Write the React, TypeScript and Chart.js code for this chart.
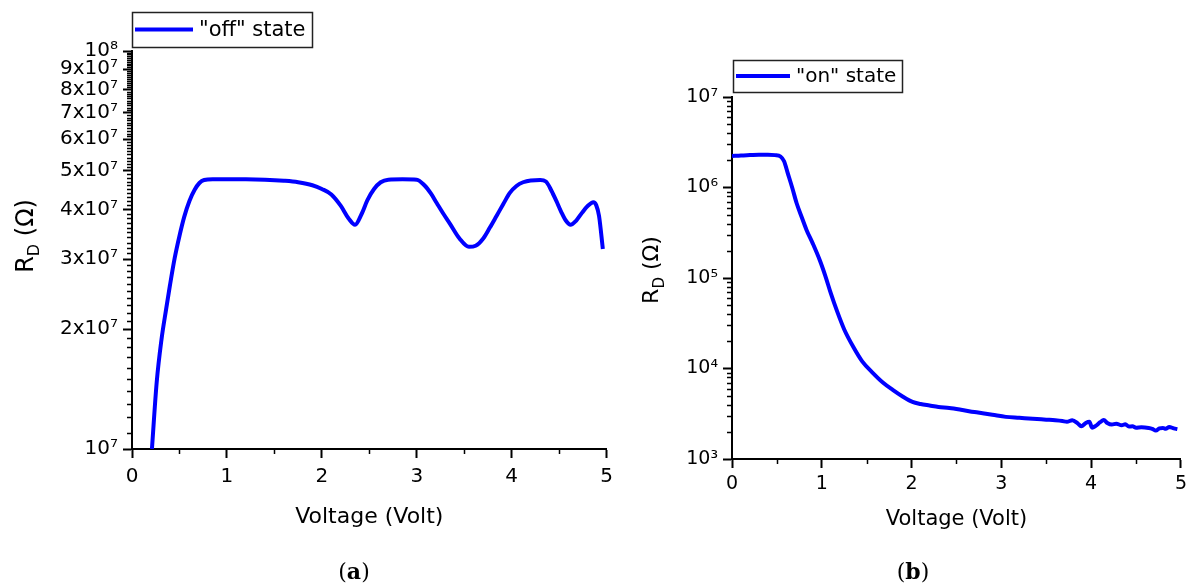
import React, { useEffect, useRef } from "react";
import { Chart, registerables } from "chart.js";
Chart.register(...registerables);

const FONT = '"DejaVu Sans", sans-serif';

// ---- (a) "off" state ----
const offVoltage = [0.21, 0.26, 0.31, 0.36, 0.4, 0.45, 0.5, 0.55, 0.605, 0.66, 0.71, 0.76, 0.85, 1.0, 1.2, 1.4, 1.6, 1.75, 1.9, 2.0, 2.1, 2.2, 2.28, 2.35, 2.42, 2.48, 2.55, 2.62, 2.7, 2.85, 3.0, 3.08, 3.15, 3.21, 3.28, 3.35, 3.45, 3.55, 3.62, 3.7, 3.77, 3.84, 3.91, 3.98, 4.05, 4.12, 4.2, 4.3, 4.36, 4.42, 4.47, 4.52, 4.57, 4.62, 4.68, 4.74, 4.8, 4.86, 4.89, 4.92, 4.96];
const offResistance = [1.0e7, 1.47e7, 1.88e7, 2.25e7, 2.58e7, 3.02e7, 3.43e7, 3.83e7, 4.2e7, 4.48e7, 4.66e7, 4.74e7, 4.76e7, 4.76e7, 4.76e7, 4.75e7, 4.72e7, 4.68e7, 4.6e7, 4.5e7, 4.36e7, 4.08e7, 3.8e7, 3.66e7, 3.9e7, 4.22e7, 4.5e7, 4.68e7, 4.75e7, 4.76e7, 4.75e7, 4.6e7, 4.38e7, 4.15e7, 3.9e7, 3.68e7, 3.38e7, 3.22e7, 3.24e7, 3.38e7, 3.6e7, 3.85e7, 4.12e7, 4.4e7, 4.58e7, 4.68e7, 4.73e7, 4.74e7, 4.7e7, 4.45e7, 4.2e7, 3.95e7, 3.75e7, 3.66e7, 3.75e7, 3.92e7, 4.08e7, 4.17e7, 4.1e7, 3.85e7, 3.18e7];
const offYTicks = [1e7, 2e7, 3e7, 4e7, 5e7, 6e7, 7e7, 8e7, 9e7, 1e8];
const offYLabels = ["10⁷", "2x10⁷", "3x10⁷", "4x10⁷", "5x10⁷", "6x10⁷", "7x10⁷", "8x10⁷", "9x10⁷", "10⁸"];

// ---- (b) "on" state ----
const onVoltage = [0.0, 0.1, 0.2, 0.3, 0.4, 0.48, 0.54, 0.58, 0.62, 0.67, 0.72, 0.78, 0.83, 0.9, 0.98, 1.04, 1.1, 1.17, 1.25, 1.35, 1.45, 1.57, 1.68, 1.79, 1.9, 2.01, 2.1, 2.2, 2.3, 2.42, 2.55, 2.7, 2.79, 2.9, 3.05, 3.2, 3.35, 3.5, 3.6, 3.68, 3.73, 3.79, 3.85, 3.89, 3.94, 3.98, 4.01, 4.05, 4.1, 4.14, 4.18, 4.23, 4.28, 4.34, 4.38, 4.42, 4.46, 4.5, 4.56, 4.64, 4.68, 4.72, 4.76, 4.8, 4.83, 4.87, 4.92, 4.96];
const onResistance = [2.23e6, 2.26e6, 2.28e6, 2.3e6, 2.3e6, 2.28e6, 2.2e6, 1.95e6, 1.45e6, 1.0e6, 6.7e5, 4.6e5, 3.4e5, 2.4e5, 1.55e5, 1.05e5, 6.8e4, 4.3e4, 2.7e4, 1.74e4, 1.2e4, 8.9e3, 7.0e3, 5.8e3, 4.9e3, 4.27e3, 4.05e3, 3.9e3, 3.76e3, 3.66e3, 3.5e3, 3.3e3, 3.2e3, 3.08e3, 2.92e3, 2.85e3, 2.78e3, 2.72e3, 2.68e3, 2.63e3, 2.58e3, 2.68e3, 2.48e3, 2.3e3, 2.5e3, 2.58e3, 2.22e3, 2.32e3, 2.55e3, 2.7e3, 2.5e3, 2.4e3, 2.45e3, 2.36e3, 2.42e3, 2.28e3, 2.3e3, 2.22e3, 2.24e3, 2.2e3, 2.15e3, 2.06e3, 2.18e3, 2.2e3, 2.16e3, 2.26e3, 2.18e3, 2.14e3];
const onYTicks = [1e3, 1e4, 1e5, 1e6, 1e7];
const onYLabels = ["10³", "10⁴", "10⁵", "10⁶", "10⁷"];

const xTicks = [0, 1, 2, 3, 4, 5];
const xLabels = ["0", "1", "2", "3", "4", "5"];
const xMinorTicks = [0.5, 1.5, 2.5, 3.5, 4.5];

const offYMinor: number[] = [];
for (let k = 1; k < 10; k++) for (let j = 1; j < 10; j++) offYMinor.push((k + j / 10) * 1e7);
const onYMinor: number[] = [];
for (let e = 3; e < 7; e++) for (let k = 2; k < 10; k++) onYMinor.push(k * Math.pow(10, e));

function drawYTitle(ctx: CanvasRenderingContext2D, cx: number, cy: number, size: number) {
  ctx.save();
  ctx.translate(cx, cy);
  ctx.rotate(-Math.PI / 2);
  const main = `${size}px ${FONT}`;
  const sub = `${Math.round(size * 0.68)}px ${FONT}`;
  ctx.font = main;
  const wR = ctx.measureText("R").width;
  const wRest = ctx.measureText(" (Ω)").width;
  ctx.font = sub;
  const wD = ctx.measureText("D").width;
  const total = wR + wD + wRest;
  const x0 = -total / 2;
  const base = size * 0.36;
  ctx.fillStyle = "#000";
  ctx.textAlign = "left";
  ctx.textBaseline = "alphabetic";
  ctx.font = main;
  ctx.fillText("R", x0, base);
  ctx.font = sub;
  ctx.fillText("D", x0 + wR, base + size * 0.28);
  ctx.font = main;
  ctx.fillText(" (Ω)", x0 + wR + wD, base);
  ctx.restore();
}

const decorPlugin = {
  id: "decor",
  afterDraw(chart: any, _args: any, o: any) {
    const { ctx, chartArea } = chart;
    const xs = chart.scales.x;
    const ys = chart.scales.y;
    ctx.save();
    ctx.strokeStyle = "#000";
    ctx.lineWidth = 1.5;
    ctx.beginPath();
    for (const v of o.xMinor) {
      const px = Math.round(xs.getPixelForValue(v)) + 0.5;
      ctx.moveTo(px, chartArea.bottom);
      ctx.lineTo(px, chartArea.bottom + 5);
    }
    for (const v of o.yMinor) {
      const py = Math.round(ys.getPixelForValue(v)) + 0.5;
      ctx.moveTo(chartArea.left - 5, py);
      ctx.lineTo(chartArea.left, py);
    }
    ctx.stroke();

    // x title
    ctx.fillStyle = "#000";
    ctx.font = `${o.xTitleSize}px ${FONT}`;
    ctx.textAlign = "center";
    ctx.textBaseline = "middle";
    ctx.fillText("Voltage (Volt)", (chartArea.left + chartArea.right) / 2, o.xTitleY);

    // y title
    drawYTitle(ctx, o.yTitleX, o.yTitleY, o.yTitleSize);

    // legend
    const L = o.legend;
    ctx.lineWidth = 1.5;
    ctx.strokeStyle = "#222";
    ctx.strokeRect(L.x + 0.5, L.y + 0.5, L.w, L.h);
    ctx.strokeStyle = "#0000FF";
    ctx.lineWidth = 4;
    ctx.beginPath();
    ctx.moveTo(L.x + 3, L.y + L.h / 2);
    ctx.lineTo(L.x + 3 + L.lineLen, L.y + L.h / 2);
    ctx.stroke();
    ctx.fillStyle = "#000";
    ctx.font = `${L.size}px ${FONT}`;
    ctx.textAlign = "left";
    ctx.textBaseline = "middle";
    ctx.fillText(L.label, L.x + 3 + L.lineLen + 6, L.y + L.h / 2 + 1);
    ctx.restore();
  },
};

function buildConfig(p: any) {
  return {
    type: "line",
    data: {
      datasets: [
        {
          label: p.label,
          data: p.xs.map((x: number, i: number) => ({ x, y: p.ys[i] })),
          borderColor: "#0000FF",
          borderWidth: 4,
          pointRadius: 0,
          cubicInterpolationMode: "monotone",
          fill: false,
        },
      ],
    },
    plugins: [decorPlugin],
    options: {
      animation: false,
      responsive: false,
      devicePixelRatio: 1,
      layout: { padding: { left: 0, top: p.top, right: p.right, bottom: 0 } },
      plugins: {
        legend: { display: false },
        tooltip: { enabled: false },
        decor: p.decor,
      },
      scales: {
        x: {
          type: "linear",
          min: 0,
          max: 5,
          afterBuildTicks: (s: any) => {
            s.ticks = xTicks.map((v) => ({ value: v }));
          },
          afterFit: (s: any) => {
            s.height = p.xHeight;
          },
          ticks: {
            callback: (_v: any, i: number) => xLabels[i],
            color: "#000",
            font: { family: FONT, size: p.tickSize },
            padding: p.xPad,
            maxRotation: 0,
            autoSkip: false,
          },
          grid: { display: true, drawOnChartArea: false, drawTicks: true, tickLength: 9, tickWidth: 2, tickColor: "#000" },
          border: { display: true, color: "#000", width: 2 },
        },
        y: {
          type: "logarithmic",
          min: p.yMin,
          max: p.yMax,
          afterBuildTicks: (s: any) => {
            s.ticks = p.yTicks.map((v: number) => ({ value: v }));
          },
          afterFit: (s: any) => {
            s.width = p.yWidth;
          },
          ticks: {
            callback: (_v: any, i: number) => p.yLabels[i],
            color: "#000",
            font: { family: FONT, size: p.tickSize },
            padding: 5,
            autoSkip: false,
          },
          grid: { display: true, drawOnChartArea: false, drawTicks: true, tickLength: 9, tickWidth: 2, tickColor: "#000" },
          border: { display: true, color: "#000", width: 2 },
        },
      },
    },
  };
}

function Panel({ left, width, params }: { left: number; width: number; params: any }) {
  const ref = useRef<HTMLCanvasElement | null>(null);
  useEffect(() => {
    if (!ref.current) return;
    const chart = new Chart(ref.current, buildConfig(params) as any);
    return () => chart.destroy();
  }, []);
  return (
    <div style={{ position: "absolute", left, top: 0, width, height: 583 }}>
      <canvas ref={ref} width={width} height={583} style={{ display: "block" }} />
    </div>
  );
}

const paramsA = {
  label: '"off" state',
  xs: offVoltage,
  ys: offResistance,
  yMin: 1e7,
  yMax: 1e8,
  yTicks: offYTicks,
  yLabels: offYLabels,
  top: 51,
  right: 9,
  yWidth: 132,
  xHeight: 134,
  tickSize: 20,
  xPad: 7,
  decor: {
    xMinor: xMinorTicks,
    yMinor: offYMinor,
    xTitleY: 517,
    xTitleSize: 22,
    yTitleX: 24,
    yTitleY: 236,
    yTitleSize: 24,
    legend: { x: 132, y: 12, w: 180, h: 35, lineLen: 58, size: 21, label: '"off" state' },
  },
};

const paramsB = {
  label: '"on" state',
  xs: onVoltage,
  ys: onResistance,
  yMin: 1e3,
  yMax: 1e7,
  yTicks: onYTicks,
  yLabels: onYLabels,
  top: 97,
  right: 10,
  yWidth: 112,
  xHeight: 124,
  tickSize: 19,
  xPad: 5,
  decor: {
    xMinor: xMinorTicks,
    yMinor: onYMinor,
    xTitleY: 520,
    xTitleSize: 21,
    yTitleX: 30,
    yTitleY: 270,
    yTitleSize: 22,
    legend: { x: 113, y: 60, w: 169, h: 32, lineLen: 54, size: 20, label: '"on" state' },
  },
};

const captionStyle: React.CSSProperties = {
  position: "absolute",
  top: 571,
  transform: "translate(-50%, -50%)",
  font: '22px "DejaVu Serif", serif',
  color: "#000",
  whiteSpace: "nowrap",
};

export default function App() {
  return (
    <div style={{ position: "fixed", left: 0, top: 0, width: 1192, height: 583, background: "#fff", overflow: "hidden" }}>
      <Panel left={0} width={620} params={paramsA} />
      <Panel left={620} width={572} params={paramsB} />
      <div style={{ ...captionStyle, left: 354 }}>
        (<b>a</b>)
      </div>
      <div style={{ ...captionStyle, left: 913 }}>
        (<b>b</b>)
      </div>
    </div>
  );
}
